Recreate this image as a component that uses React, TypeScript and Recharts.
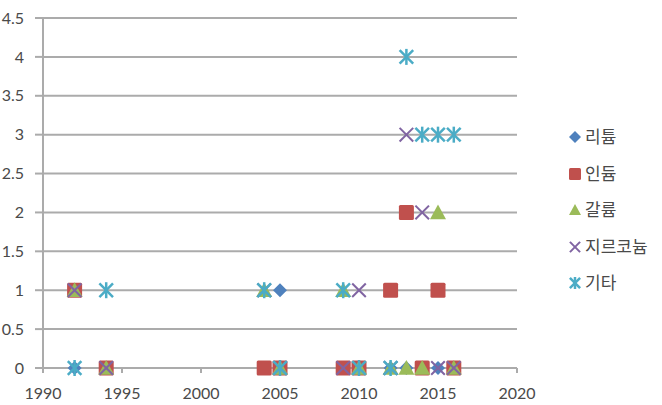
import React from 'react';
import { ScatterChart, Scatter, XAxis, YAxis, CartesianGrid, Legend } from 'recharts';

// Years with recorded counts, and the count for each material in that year
const years = [1992, 1994, 2004, 2005, 2009, 2010, 2012, 2013, 2014, 2015, 2016];
const lithium = [0, 0, 0, 1, 0, 0, 0, 0, 0, 0, 0];
const indium = [1, 0, 0, 0, 0, 0, 1, 2, 0, 1, 0];
const gallium = [1, 0, 1, 0, 1, 0, 0, 0, 0, 2, 0];
const zirconium = [1, 0, 1, 0, 0, 1, 0, 3, 2, 0, 0];
const others = [0, 1, 1, 0, 1, 0, 0, 4, 3, 3, 3];

const xTicks = [1990, 1995, 2000, 2005, 2010, 2015, 2020];
const yTicks = [0, 0.5, 1, 1.5, 2, 2.5, 3, 3.5, 4, 4.5];

const toPoints = (vals: number[]) => years.map((x, i) => ({ x, y: vals[i] }));

const C = {
  blue: '#4F81BD',
  red: '#C0504D',
  green: '#9BBB59',
  purple: '#8064A2',
  cyan: '#4BACC6',
};

type MarkerKind = 'diamond' | 'square' | 'triangle' | 'x' | 'star';

function marker(kind: MarkerKind, color: string, cx: number, cy: number, s: number) {
  switch (kind) {
    case 'diamond':
      return <polygon points={`${cx},${cy - s} ${cx + s},${cy} ${cx},${cy + s} ${cx - s},${cy}`} fill={color} />;
    case 'square':
      return <rect x={cx - s} y={cy - s} width={2 * s} height={2 * s} rx={1.5} fill={color} />;
    case 'triangle':
      return <polygon points={`${cx},${cy - s} ${cx + s},${cy + s * 0.85} ${cx - s},${cy + s * 0.85}`} fill={color} />;
    case 'x':
      return (
        <g stroke={color} strokeWidth={2}>
          <line x1={cx - s * 0.85} y1={cy - s * 0.85} x2={cx + s * 0.85} y2={cy + s * 0.85} />
          <line x1={cx - s * 0.85} y1={cy + s * 0.85} x2={cx + s * 0.85} y2={cy - s * 0.85} />
        </g>
      );
    case 'star':
    default:
      return (
        <g stroke={color} strokeWidth={2.5}>
          <line x1={cx - s * 0.85} y1={cy - s * 0.85} x2={cx + s * 0.85} y2={cy + s * 0.85} />
          <line x1={cx - s * 0.85} y1={cy + s * 0.85} x2={cx + s * 0.85} y2={cy - s * 0.85} />
          <line x1={cx} y1={cy - s} x2={cx} y2={cy + s} />
        </g>
      );
  }
}

const seriesDefs: { name: string; kind: MarkerKind; color: string; vals: number[] }[] = [
  { name: '리튬', kind: 'diamond', color: C.blue, vals: lithium },
  { name: '인듐', kind: 'square', color: C.red, vals: indium },
  { name: '갈륨', kind: 'triangle', color: C.green, vals: gallium },
  { name: '지르코늄', kind: 'x', color: C.purple, vals: zirconium },
  { name: '기타', kind: 'star', color: C.cyan, vals: others },
];

const markerSize: Record<MarkerKind, number> = {
  diamond: 7,
  square: 7.5,
  triangle: 8,
  x: 8,
  star: 8,
};

const LegendBox = () => (
  <div>
    {seriesDefs.map((s) => (
      <div key={s.name} style={{ display: 'flex', alignItems: 'center', height: 36.5 }}>
        <svg width={14} height={14} style={{ marginRight: 3 }}>
          {marker(s.kind, s.color, 7, 7, 6)}
        </svg>
        <span style={{ fontSize: 17, color: '#4A4A4A', lineHeight: '20px' }}>{s.name}</span>
      </div>
    ))}
  </div>
);

export default function App() {
  return (
    <div
      style={{
        position: 'absolute',
        left: 0,
        top: 0,
        fontFamily: 'Lato, "Noto Sans CJK KR", sans-serif',
        background: '#fff',
      }}
    >
      <ScatterChart width={662} height={405} margin={{ top: 18, right: 46, bottom: 7, left: 0 }}>
        <CartesianGrid vertical={false} stroke="#ABABAB" strokeWidth={2} />
        <XAxis
          type="number"
          dataKey="x"
          domain={[1990, 2020]}
          ticks={xTicks}
          allowDataOverflow
          height={30}
          tickSize={5}
          tickMargin={15}
          stroke="#ABABAB"
          strokeWidth={2}
          tick={{ fill: '#4A4A4A', fontSize: 16 }}
        />
        <YAxis
          type="number"
          dataKey="y"
          domain={[0, 4.5]}
          ticks={yTicks}
          width={43}
          tickSize={8}
          tickMargin={11}
          stroke="#ABABAB"
          strokeWidth={2}
          tick={{ fill: '#4A4A4A', fontSize: 16 }}
        />
        <Legend
          layout="vertical"
          align="right"
          verticalAlign="top"
          content={() => <LegendBox />}
          wrapperStyle={{ left: 568, top: 119, width: 99 }}
        />
        {seriesDefs.map((s) => (
          <Scatter
            key={s.name}
            name={s.name}
            data={toPoints(s.vals)}
            fill={s.color}
            isAnimationActive={false}
            shape={(p: any) => marker(s.kind, s.color, p.cx, p.cy, markerSize[s.kind])}
          />
        ))}
      </ScatterChart>
    </div>
  );
}
